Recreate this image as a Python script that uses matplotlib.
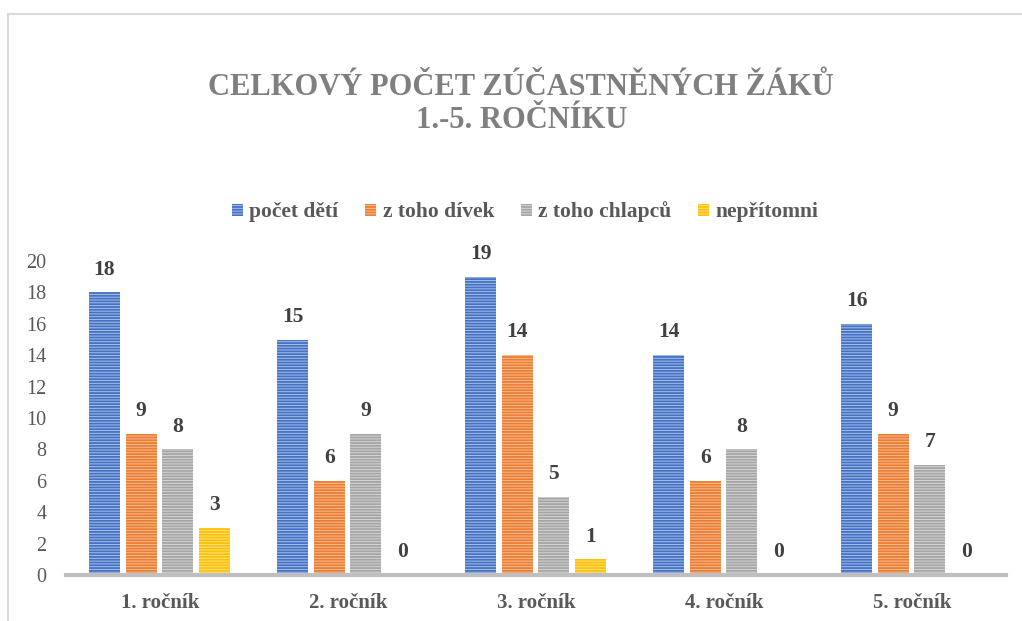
import numpy as np
import matplotlib
matplotlib.use("Agg")
import matplotlib.pyplot as plt
from matplotlib.patches import Rectangle

plt.rcParams["font.family"] = ["Liberation Serif", "DejaVu Serif"]
plt.rcParams["hatch.linewidth"] = 1.3

categories = ["1. ročník", "2. ročník", "3. ročník", "4. ročník", "5. ročník"]
series_names = ["počet dětí", "z toho dívek", "z toho chlapců", "nepřítomni"]
pocet_deti = [18, 15, 19, 14, 16]
divky = [9, 6, 14, 6, 9]
chlapci = [8, 9, 5, 8, 7]
nepritomni = [3, 0, 1, 0, 0]

series = [pocet_deti, divky, chlapci, nepritomni]
dark = ["#4472C4", "#ED7D31", "#A5A5A5", "#FFC000"]
light = ["#A9BFE6", "#F6BE98", "#D6D6D6", "#FFE08A"]
offsets = [-0.295, -0.1, 0.095, 0.29]
width = 0.165

fig = plt.figure(figsize=(10.22, 6.21), dpi=100)
ax = fig.add_axes([66 / 1022, 1 - 575 / 621, 940 / 1022, (575 - 261) / 621])

# chart border (only top and left visible in the crop)
fig.patches.append(Rectangle((8 / 1022, -0.1), 1.2, 1 - 14 / 621 + 0.1,
                             transform=fig.transFigure, fill=False,
                             edgecolor="#D9D9D9", linewidth=1.5))

x = np.arange(len(categories))
for vals, name, dc, lc, off in zip(series, series_names, dark, light, offsets):
    bars = ax.bar(x + off, vals, width, color=lc, edgecolor=dc, linewidth=0,
                  hatch="------", label=name)
    for b, v in zip(bars, vals):
        ax.text(b.get_x() + b.get_width() / 2, v + 1.45, str(v),
                ha="center", va="center", fontsize=15.5, fontweight="bold",
                color="#404040")

ax.set_xlim(-0.5, 4.5)
ax.set_ylim(0, 20)
ax.set_yticks(range(0, 21, 2))
ax.set_xticks(x)
ax.set_xticklabels(categories, fontsize=15, fontweight="bold", color="#595959")
ax.tick_params(axis="y", labelsize=14.5, labelcolor="#595959", length=0, pad=14)
ax.tick_params(axis="x", length=0, pad=13)
for s in ["top", "right", "left"]:
    ax.spines[s].set_visible(False)
ax.spines["bottom"].set_color("#BFBFBF")
ax.spines["bottom"].set_linewidth(3)

fig.text(0.51, 1 - 104 / 621, "CELKOVÝ POČET ZÚČASTNĚNÝCH ŽÁKŮ\n1.-5. ROČNÍKU",
         ha="center", va="center", fontsize=22, fontweight="bold",
         color="#7F7F7F", linespacing=1.15)

fig.legend(loc="center", bbox_to_anchor=(0.514, 1 - 212 / 621), ncol=4,
           frameon=False, handlelength=0.5, handleheight=0.5,
           handletextpad=0.3, columnspacing=1.25,
           prop={"size": 15.5, "weight": "bold"}, labelcolor="#595959")

fig.savefig("out.png", dpi=100)
